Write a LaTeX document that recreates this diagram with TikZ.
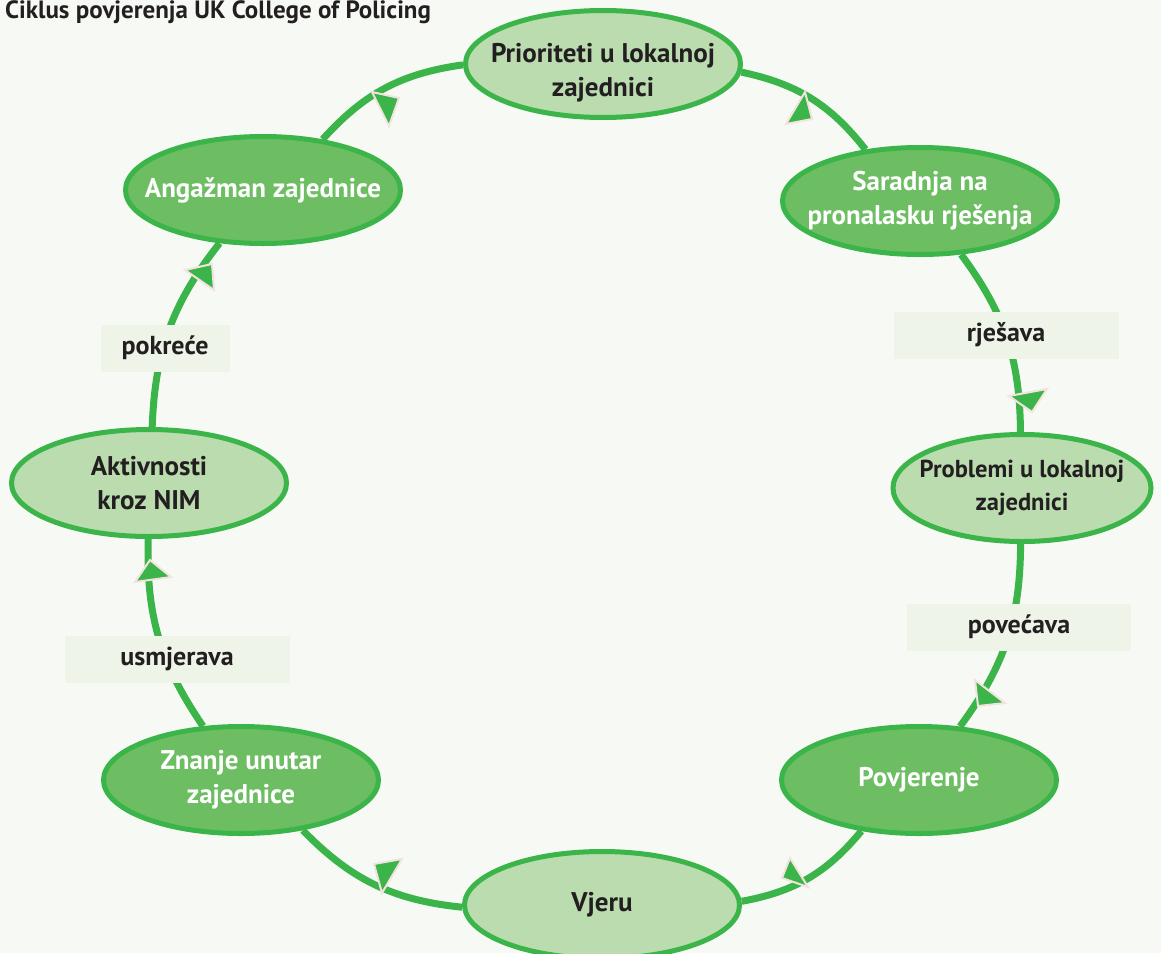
\documentclass[tikz,border=0pt]{standalone}
\usepackage{fontspec}
\setmainfont{PT Sans}
\usetikzlibrary{shapes.geometric,backgrounds}

\definecolor{ring}{HTML}{3BB44A}
\definecolor{paleFill}{HTML}{BADCAF}
\definecolor{deepFill}{HTML}{6DBE63}
\definecolor{page}{HTML}{F7FAF4}
\definecolor{tagFill}{HTML}{EEF4E8}
\definecolor{ink}{HTML}{231F20}
\definecolor{tipEdge}{HTML}{F3E3DF}

\begin{document}
\begin{tikzpicture}[x=1pt,y=-1pt,
  stage/.style={ellipse, draw=ring, line width=5pt, minimum width=275pt,
    minimum height=107pt, inner xsep=-25pt, inner ysep=0pt, align=center,
    font=\fontsize{27}{34}\selectfont\bfseries},
  pale/.style={stage, fill=paleFill, text=ink},
  deep/.style={stage, fill=deepFill, text=white},
  link/.style={draw=ring, line width=7pt},
  tag/.style={fill=tagFill, text=ink, inner sep=0pt, minimum height=47pt,
    font=\fontsize{26}{30}\selectfont\bfseries},
  tip/.style={fill=ring, draw=tipEdge, line width=2pt, line join=miter}
]
\useasboundingbox (0,0) rectangle (1161,953);

% title
\node[anchor=base west, inner sep=0pt, text=ink,
  font=\fontsize{25}{29}\selectfont\bfseries] (title) at (5,18)
  {Ciklus povjerenja UK College of Policing};

% stages of the cycle
\node[pale] (pri) at (603,64)
  {\raisebox{-9pt}[\height][\depth]{\shortstack{Prioriteti u lokalnoj\\[6pt]zajednici}}};
\node[deep] (sar) at (920,201) {Saradnja na\\pronalasku rješenja};
\node[pale, minimum width=258pt, font=\fontsize{24.5}{33}\selectfont\bfseries]
  (pro) at (1022,488) {Problemi u lokalnoj\\zajednici};
\node[deep] (pov) at (919,780) {Povjerenje};
\node[pale] (vje) at (602,905) {Vjeru};
\node[deep] (zna) at (241,780) {Znanje unutar\\zajednice};
\node[pale] (akt) at (149,483) {Aktivnosti\\kroz NIM};
\node[deep] (ang) at (263,190) {Angažman zajednice};

% page and ring connectors (clockwise) beneath the stages
\begin{pgfonlayer}{background}
  \fill[page] (0,0) rectangle (1161,953);
  \draw[link] (ang) to[bend left=20] (pri);
  \draw[link] (pri) to[bend left=20] (sar);
  \draw[link] (sar) to[bend left=18] (pro);
  \draw[link] (pro) to[bend left=18] (pov);
  \draw[link] (pov) to[bend left=20] (vje);
  \draw[link] (vje) to[bend left=20] (zna);
  \draw[link] (zna) to[bend left=18] (akt);
  \draw[link] (akt) to[bend left=18] (ang);
\end{pgfonlayer}

% labels on the ring
\node[tag, minimum width=225pt] (l1) at (1006,335) {rješava};
\node[tag, minimum width=224pt] (l2) at (1019,627) {povećava};
\node[tag, minimum width=129pt] (l3) at (165,348) {pokreće};
\node[tag, minimum width=225pt] (l4) at (177,659) {usmjerava};

% arrow tips along the ring
\filldraw[tip] (372,92) -- (399,98) -- (389,126) -- cycle;
\filldraw[tip] (805,92) -- (786,124) -- (812,119) -- cycle;
\filldraw[tip] (1009,396) -- (1047,389) -- (1032,412) -- cycle;
\filldraw[tip] (975,680) -- (978,706) -- (1005,703) -- cycle;
\filldraw[tip] (790,858) -- (782,878) -- (808,887) -- cycle;
\filldraw[tip] (374,864) -- (402,859) -- (382,893) -- cycle;
\filldraw[tip] (185,270) -- (212,264) -- (214,290) -- cycle;
\filldraw[tip] (150,560) -- (135,582) -- (171,577) -- cycle;
\end{tikzpicture}
\end{document}
